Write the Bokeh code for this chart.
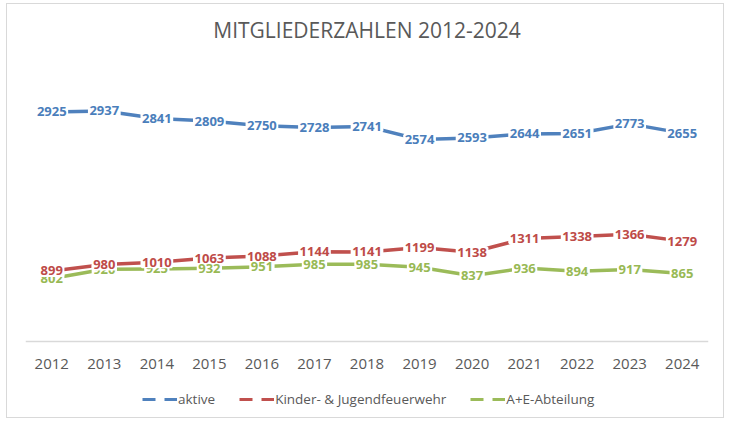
from bokeh.plotting import figure
from bokeh.models import ColumnDataSource, LabelSet, Label, Range1d, FactorRange, Legend, LegendItem
from bokeh.core.properties import value
from bokeh.embed import file_html
from bokeh.resources import INLINE

years = ["2012", "2013", "2014", "2015", "2016", "2017", "2018",
         "2019", "2020", "2021", "2022", "2023", "2024"]
aktive = [2925, 2937, 2841, 2809, 2750, 2728, 2741, 2574, 2593, 2644, 2651, 2773, 2655]
kinder = [899, 980, 1010, 1063, 1088, 1144, 1141, 1199, 1138, 1311, 1338, 1366, 1279]
ae_abt = [802, 920, 925, 932, 951, 985, 985, 945, 837, 936, 894, 917, 865]
series_names = ["aktive", "Kinder- & Jugendfeuerwehr", "A+E-Abteilung"]
title_text = "MITGLIEDERZAHLEN 2012-2024"

colors = ["#4F81BD", "#C0504D", "#9BBB59"]
label_colors = ["#4A7EBB", "#BE4B48", "#98B954"]
FONT = "Open Sans"
GRAY = "#595959"

p = figure(width=718, height=415, x_range=FactorRange(*years), y_range=Range1d(-994, 4294),
           output_backend="svg", toolbar_location=None,
           min_border_left=18, min_border_right=17, min_border_top=0, min_border_bottom=0,
           margin=(3, 0, 0, 6), styles={"border": "1px solid #d9d9d9"})
p.outline_line_color = None
p.grid.visible = False
p.yaxis.visible = False
p.title.text = ""
p.title.standoff = 0
p.title.visible = False
p.extra_y_ranges = {"hidden": Range1d(10000, 20000)}

# chart title (placed in the plot area above the data)
p.add_layout(Label(x=6.5, y=3963, text=title_text, text_align="center", text_baseline="middle",
                   text_font=FONT, text_font_size="21px", text_color=GRAY))

xa = p.xaxis[0]
xa.fixed_location = 0
xa.axis_line_color = "#d9d9d9"
xa.axis_line_width = 1.5
xa.major_tick_line_color = None
xa.minor_tick_line_color = None
xa.major_tick_out = 0
xa.major_tick_in = 0
xa.major_label_standoff = 18
xa.major_label_text_font = FONT
xa.major_label_text_font_size = "15px"
xa.major_label_text_color = GRAY

cols = ["aktive", "kinder", "ae"]
data = dict(year=years, aktive=aktive, kinder=kinder, ae=ae_abt)
for col in cols:
    data[col + "_txt"] = [str(v) for v in data[col]]
src = ColumnDataSource(data)

for c, col in zip(colors, cols):
    p.line("year", col, source=src, line_color=c, line_width=3.5, line_join="round", line_cap="round")

# labels: green first, then red, then blue (red on top of green)
for idx in [2, 1, 0]:
    ls = LabelSet(x="year", y=cols[idx], text=cols[idx] + "_txt", source=src,
                  text_align="center", text_baseline="middle",
                  text_font=value(FONT), text_font_size=value("13px"), text_font_style="bold",
                  text_color=label_colors[idx], background_fill_color="white",
                  border_line_color="white", border_line_width=3)
    p.add_layout(ls)

# legend keys: dashed samples (drawn on a hidden range so only the key shows)
legend_renderers = []
for c, col in zip(colors, cols):
    r = p.line("year", col, source=src, line_color=c, line_width=3, line_dash="13 9",
               y_range_name="hidden")
    legend_renderers.append(r)

legend = Legend(items=[LegendItem(label=n, renderers=[r]) for n, r in zip(series_names, legend_renderers)],
                orientation="horizontal", location=(117, 10),
                glyph_width=35, glyph_height=20, label_standoff=1, spacing=24, padding=0,
                margin=0, border_line_color=None, background_fill_alpha=0,
                label_text_font=FONT, label_text_font_size="13.5px", label_text_color=GRAY)
p.add_layout(legend)

open("out.html", "w").write(file_html(p, INLINE))
